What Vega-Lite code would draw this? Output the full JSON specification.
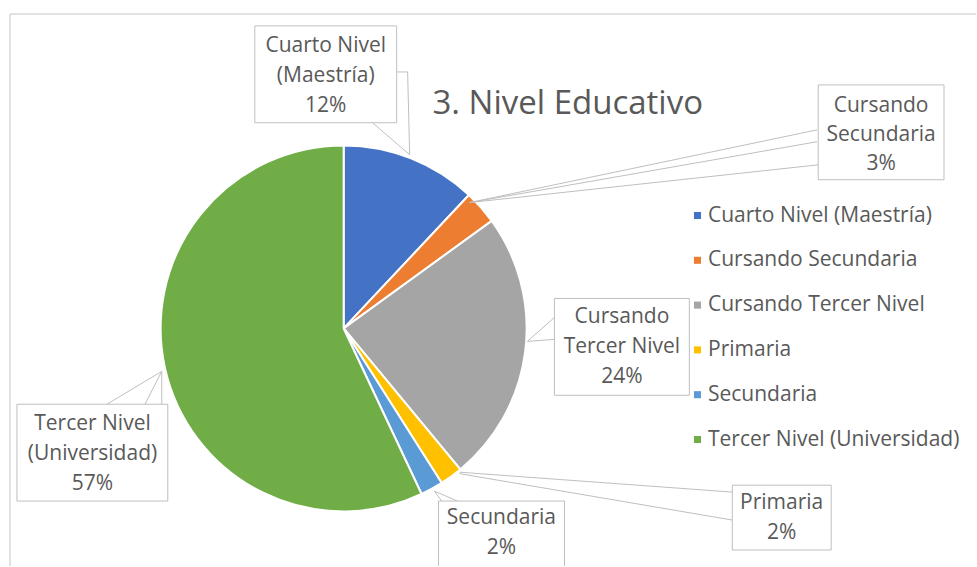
{
  "$schema": "https://vega.github.io/schema/vega-lite/v6.json",
  "width": 977,
  "height": 567,
  "autosize": {"type": "fit", "contains": "padding"},
  "padding": 0,
  "background": "white",
  "config": {"view": {"stroke": null}, "font": "Open Sans"},
  "datasets": {
    "edu": [
      {"category": "Cuarto Nivel (Maestría)", "value": 12},
      {"category": "Cursando Secundaria", "value": 3},
      {"category": "Cursando Tercer Nivel", "value": 24},
      {"category": "Primaria", "value": 2},
      {"category": "Secundaria", "value": 2},
      {"category": "Tercer Nivel (Universidad)", "value": 57}
    ],
    "one": [{}]
  },
  "data": {"name": "edu"},
  "layer": [
    {
      "mark": {"type": "arc", "outerRadius": 183, "stroke": "white", "strokeWidth": 2},
      "encoding": {
        "x": {"datum": 0, "type": "quantitative", "scale": {"domain": [-1.8798, 3.459], "nice": false, "zero": false}, "axis": null},
        "y": {"datum": 0, "type": "quantitative", "scale": {"domain": [-1.3005, 1.7978], "nice": false, "zero": false}, "axis": null},
        "theta": {"field": "value", "type": "quantitative", "stack": true},
        "color": {
          "field": "category", "type": "nominal",
          "scale": {
            "domain": ["Cuarto Nivel (Maestría)", "Cursando Secundaria", "Cursando Tercer Nivel", "Primaria", "Secundaria", "Tercer Nivel (Universidad)"],
            "range": ["#4472C4", "#ED7D31", "#A5A5A5", "#FFC000", "#5B9BD5", "#70AD47"]
          },
          "legend": {
            "title": null, "orient": "none", "legendX": 687, "legendY": 205,
            "symbolType": "square", "symbolSize": 50, "symbolStrokeWidth": 0,
            "labelFontSize": 21, "labelColor": "#595959", "labelFont": "Open Sans",
            "labelOffset": 0, "rowPadding": 22.8, "padding": 0, "labelLimit": 300
          }
        }
      }
    },
    {
      "data": {"name": "one"},
      "layer": [
        {"mark": {"type": "rule", "color": "#D9D9D9", "strokeWidth": 1.5}, "encoding": {"x": {"datum": -1.825}, "x2": {"datum": 3.459}, "y": {"datum": 1.721}, "y2": {"datum": 1.721}}},
        {"mark": {"type": "rule", "color": "#D9D9D9", "strokeWidth": 1.5}, "encoding": {"x": {"datum": -1.825}, "x2": {"datum": -1.825}, "y": {"datum": 1.721}, "y2": {"datum": -1.3005}}},
        {"mark": {"type": "text", "text": "3. Nivel Educativo", "fontSize": 33, "color": "#595959", "align": "left", "baseline": "alphabetic"}, "encoding": {"x": {"datum": 0.486}, "y": {"datum": 1.175}}}
      ]
    },
    {
      "transform": [{"filter": "datum.category === 'Cuarto Nivel (Maestría)'"}, {"calculate": "'Cuarto Nivel|(Maestría)|' + datum.value + '%'", "as": "lbl"}],
      "layer": [
        {"mark": {"type": "rule", "color": "#BFBFBF", "strokeWidth": 1}, "encoding": {"x": {"datum": 0.158}, "y": {"datum": 1.126}, "x2": {"datum": 0.361}, "y2": {"datum": 0.951}}},
        {"mark": {"type": "rule", "color": "#BFBFBF", "strokeWidth": 1}, "encoding": {"x": {"datum": 0.35}, "y": {"datum": 1.404}, "x2": {"datum": 0.361}, "y2": {"datum": 0.951}}},
        {"mark": {"type": "rule", "color": "#BFBFBF", "strokeWidth": 1}, "encoding": {"x": {"datum": 0.29}, "y": {"datum": 1.404}, "x2": {"datum": 0.35}, "y2": {"datum": 1.404}}},
        {"mark": {"type": "rect", "fill": "white", "stroke": "#BFBFBF", "strokeWidth": 1}, "encoding": {"x": {"datum": -0.486}, "x2": {"datum": 0.29}, "y": {"datum": 1.656}, "y2": {"datum": 1.126}}},
        {"mark": {"type": "text", "lineBreak": "|", "fontSize": 21, "lineHeight": 30, "color": "#595959", "align": "center", "baseline": "middle"}, "encoding": {"x": {"datum": -0.098}, "y": {"datum": 1.545}, "text": {"field": "lbl"}}}
      ]
    },
    {
      "transform": [{"filter": "datum.category === 'Cursando Secundaria'"}, {"calculate": "'Cursando|Secundaria|' + datum.value + '%'", "as": "lbl"}],
      "layer": [
        {"mark": {"type": "rule", "color": "#BFBFBF", "strokeWidth": 1}, "encoding": {"x": {"datum": 2.59}, "y": {"datum": 1.087}, "x2": {"datum": 0.689}, "y2": {"datum": 0.689}}},
        {"mark": {"type": "rule", "color": "#BFBFBF", "strokeWidth": 1}, "encoding": {"x": {"datum": 2.59}, "y": {"datum": 1.022}, "x2": {"datum": 0.689}, "y2": {"datum": 0.689}}},
        {"mark": {"type": "rule", "color": "#BFBFBF", "strokeWidth": 1}, "encoding": {"x": {"datum": 2.601}, "y": {"datum": 0.896}, "x2": {"datum": 0.689}, "y2": {"datum": 0.689}}},
        {"mark": {"type": "rect", "fill": "white", "stroke": "#BFBFBF", "strokeWidth": 1}, "encoding": {"x": {"datum": 2.596}, "x2": {"datum": 3.284}, "y": {"datum": 1.333}, "y2": {"datum": 0.814}}},
        {"mark": {"type": "text", "lineBreak": "|", "fontSize": 21, "lineHeight": 29, "color": "#595959", "align": "center", "baseline": "middle"}, "encoding": {"x": {"datum": 2.94}, "y": {"datum": 1.215}, "text": {"field": "lbl"}}}
      ]
    },
    {
      "transform": [{"filter": "datum.category === 'Cursando Tercer Nivel'"}, {"calculate": "'Cursando|Tercer Nivel|' + datum.value + '%'", "as": "lbl"}],
      "layer": [
        {"mark": {"type": "rule", "color": "#BFBFBF", "strokeWidth": 1}, "encoding": {"x": {"datum": 1.153}, "y": {"datum": 0.06}, "x2": {"datum": 1.005}, "y2": {"datum": -0.071}}},
        {"mark": {"type": "rule", "color": "#BFBFBF", "strokeWidth": 1}, "encoding": {"x": {"datum": 1.153}, "y": {"datum": -0.06}, "x2": {"datum": 1.005}, "y2": {"datum": -0.071}}},
        {"mark": {"type": "rect", "fill": "white", "stroke": "#BFBFBF", "strokeWidth": 1}, "encoding": {"x": {"datum": 1.153}, "x2": {"datum": 1.891}, "y": {"datum": 0.164}, "y2": {"datum": -0.366}}},
        {"mark": {"type": "text", "lineBreak": "|", "fontSize": 21, "lineHeight": 30, "color": "#595959", "align": "center", "baseline": "middle"}, "encoding": {"x": {"datum": 1.522}, "y": {"datum": 0.06}, "text": {"field": "lbl"}}}
      ]
    },
    {
      "transform": [{"filter": "datum.category === 'Primaria'"}, {"calculate": "'Primaria|' + datum.value + '%'", "as": "lbl"}],
      "layer": [
        {"mark": {"type": "rule", "color": "#BFBFBF", "strokeWidth": 1}, "encoding": {"x": {"datum": 0.634}, "y": {"datum": -0.787}, "x2": {"datum": 2.126}, "y2": {"datum": -0.896}}},
        {"mark": {"type": "rule", "color": "#BFBFBF", "strokeWidth": 1}, "encoding": {"x": {"datum": 0.634}, "y": {"datum": -0.795}, "x2": {"datum": 2.126}, "y2": {"datum": -1.049}}},
        {"mark": {"type": "rect", "fill": "white", "stroke": "#BFBFBF", "strokeWidth": 1}, "encoding": {"x": {"datum": 2.126}, "x2": {"datum": 2.667}, "y": {"datum": -0.858}, "y2": {"datum": -1.213}}},
        {"mark": {"type": "text", "lineBreak": "|", "fontSize": 21, "lineHeight": 30, "color": "#595959", "align": "center", "baseline": "middle"}, "encoding": {"x": {"datum": 2.396}, "y": {"datum": -0.958}, "text": {"field": "lbl"}}}
      ]
    },
    {
      "transform": [{"filter": "datum.category === 'Secundaria'"}, {"calculate": "'Secundaria|' + datum.value + '%'", "as": "lbl"}],
      "layer": [
        {"mark": {"type": "rule", "color": "#BFBFBF", "strokeWidth": 1}, "encoding": {"x": {"datum": 0.497}, "y": {"datum": -0.891}, "x2": {"datum": 0.536}, "y2": {"datum": -0.945}}},
        {"mark": {"type": "rule", "color": "#BFBFBF", "strokeWidth": 1}, "encoding": {"x": {"datum": 0.497}, "y": {"datum": -0.891}, "x2": {"datum": 0.623}, "y2": {"datum": -0.945}}},
        {"mark": {"type": "rect", "fill": "white", "stroke": "#BFBFBF", "strokeWidth": 1, "clip": true}, "encoding": {"x": {"datum": 0.519}, "x2": {"datum": 1.208}, "y": {"datum": -0.945}, "y2": {"datum": -1.35}}},
        {"mark": {"type": "text", "lineBreak": "|", "fontSize": 21, "lineHeight": 30, "color": "#595959", "align": "center", "baseline": "middle"}, "encoding": {"x": {"datum": 0.863}, "y": {"datum": -1.04}, "text": {"field": "lbl"}}}
      ]
    },
    {
      "transform": [{"filter": "datum.category === 'Tercer Nivel (Universidad)'"}, {"calculate": "'Tercer Nivel|(Universidad)|' + datum.value + '%'", "as": "lbl"}],
      "layer": [
        {"mark": {"type": "rule", "color": "#BFBFBF", "strokeWidth": 1}, "encoding": {"x": {"datum": -0.995}, "y": {"datum": -0.235}, "x2": {"datum": -1.295}, "y2": {"datum": -0.415}}},
        {"mark": {"type": "rule", "color": "#BFBFBF", "strokeWidth": 1}, "encoding": {"x": {"datum": -0.995}, "y": {"datum": -0.235}, "x2": {"datum": -1.087}, "y2": {"datum": -0.415}}},
        {"mark": {"type": "rule", "color": "#BFBFBF", "strokeWidth": 1}, "encoding": {"x": {"datum": -0.995}, "y": {"datum": -0.235}, "x2": {"datum": -0.995}, "y2": {"datum": -0.415}}},
        {"mark": {"type": "rect", "fill": "white", "stroke": "#BFBFBF", "strokeWidth": 1}, "encoding": {"x": {"datum": -1.787}, "x2": {"datum": -0.962}, "y": {"datum": -0.415}, "y2": {"datum": -0.945}}},
        {"mark": {"type": "text", "lineBreak": "|", "fontSize": 21, "lineHeight": 30, "color": "#595959", "align": "center", "baseline": "middle"}, "encoding": {"x": {"datum": -1.374}, "y": {"datum": -0.521}, "text": {"field": "lbl"}}}
      ]
    }
  ]
}
